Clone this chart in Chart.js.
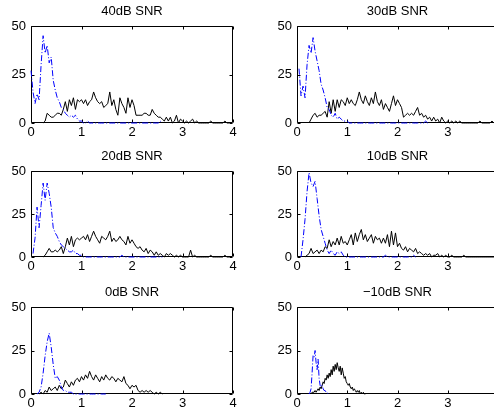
<!DOCTYPE html>
<html>
<head>
<meta charset="utf-8">
<script src="https://cdn.jsdelivr.net/npm/chart.js@4.4.0/dist/chart.umd.min.js"></script>
<style>
  html, body { margin: 0; padding: 0; background: #fff; width: 494px; height: 418px; overflow: hidden; }
  canvas { position: absolute; }
</style>
</head>
<body>
<script>
// histogram counts per SNR level, blue = dash-dot, black = solid
const snrTitles = ['40dB SNR', '30dB SNR', '20dB SNR', '10dB SNR', '0dB SNR', '\u221210dB SNR'];
const xTickValues = [0, 1, 2, 3, 4];
const yTickValues = [0, 25, 50];

// bin width and first bin centre of each series
const binWidth   = [0.04, 0.04, 0.04, 0.04, 0.04, 0.02];
const blueStart  = [0.00, 0.04, 0.04, 0.08, 0.12, 0.24];
const blackStart = [0.24, 0.24, 0.24, 0.16, 0.16, 0.28];

const blue40 = [27, 16, 10, 15, 12, 30, 45, 36, 40, 31, 34, 22, 17, 13, 11, 8, 7, 5, 4, 3,
  4, 3, 4, 2, 1, 1, 0, 0, 1, 0, 0, 0, 0, 0, 0, 0, 0, 0, 0, 0,
  0, 0, 0, 0, 0, 0, 0, 0, 0, 0, 0, 0, 0, 0, 0, 0, 0, 0, 0, 0, 0, 0, 0, 0, 1, 0];
const black40 = [0, 1, 5, 4, 3, 3, 4, 5, 5, 4,
  7, 11, 6, 12, 9, 13, 7, 12, 11, 12,
  10, 12, 9, 11, 12, 16, 13, 11, 10, 11,
  8, 9, 10, 16, 9, 12, 7, 4, 13, 10,
  8, 5, 13, 8, 12, 9, 4, 4, 4, 4,
  5, 5, 4, 4, 7, 5, 4, 3, 3, 2,
  1, 3, 1, 3, 0, 1, 4, 0, 2, 1,
  0, 1, 0, 1, 2, 0, 1, 0, 0, 0,
  0, 0, 0, 1, 0, 0, 0, 0, 0, 0,
  1, 0, 0];

const blue30 = [28, 14, 19, 13, 30, 40, 36, 44, 37, 32, 27, 20, 17, 13, 8, 7, 4, 3, 5, 2,
  3, 2, 1, 1, 1, 0, 0, 0, 0, 0, 0, 0, 0, 0, 0, 0, 0, 0, 0, 0,
  0, 0, 0, 0, 0, 0, 0, 0, 0, 0, 0, 0, 0, 0, 0, 0, 0, 0, 0, 0, 0, 0, 0, 1, 0];
const black30 = [0, 2, 4, 5, 3, 4, 4, 5, 6, 3,
  11, 5, 12, 6, 12, 8, 12, 11, 9, 13,
  10, 12, 10, 9, 12, 16, 12, 10, 14, 11,
  9, 13, 10, 16, 11, 9, 12, 7, 10, 8,
  6, 10, 14, 9, 12, 10, 8, 3, 4, 5,
  4, 5, 4, 6, 8, 4, 5, 3, 4, 2,
  3, 1, 3, 1, 2, 0, 3, 1, 0, 1,
  0, 1, 0, 1, 0, 1, 0, 0, 0, 0,
  0, 0, 0, 0, 0, 1, 0, 0, 0, 0,
  0, 1, 0];

const blue20 = [2, 11, 29, 17, 30, 43, 33, 43, 37, 29, 17, 14, 12, 9, 7, 6, 5, 4, 3, 3,
  4, 2, 2, 1, 1, 0, 0, 0, 0, 0, 0, 0, 0, 0, 0, 0, 0, 0, 0, 0,
  0, 0, 0, 0, 1, 0, 0, 0, 0, 0, 0, 0, 0, 0, 0, 0, 0, 0, 0, 0, 0, 0, 0, 0, 0];
const black20 = [0, 1, 3, 5, 3, 3, 4, 3, 4, 6,
  2, 6, 11, 7, 12, 6, 10, 11, 10, 11,
  12, 10, 13, 9, 12, 15, 12, 10, 8, 12,
  11, 10, 12, 15, 9, 11, 9, 10, 12, 10,
  9, 7, 12, 8, 10, 8, 6, 5, 6, 4,
  3, 5, 2, 4, 3, 1, 3, 1, 2, 1,
  0, 2, 1, 2, 1, 0, 1, 0, 1, 0,
  0, 0, 0, 4, 0, 1, 0, 0, 0, 0,
  0, 0, 0, 1, 0, 0, 0, 0, 0, 0,
  1, 0, 0];

const blue10 = [0, 10, 22, 38, 49, 43, 41, 44, 34, 24, 16, 12, 8, 4, 2, 4, 2, 1, 3, 2,
  3, 1, 0, 0, 0, 0, 0, 0, 0, 0, 0, 0, 0, 0, 0, 0, 0, 0, 0, 0,
  0, 0, 1, 0, 0, 0, 0, 0, 0, 0, 0, 0, 0, 0, 0, 0, 1, 0];
const black10 = [0, 1, 2, 5, 2, 3, 4, 2, 4, 3,
  6, 5, 10, 6, 9, 7, 11, 7, 12, 8,
  9, 7, 10, 13, 7, 14, 9, 13, 16, 10,
  13, 9, 11, 13, 8, 12, 10, 11, 8, 11,
  8, 13, 6, 15, 7, 14, 6, 8, 5, 4,
  6, 3, 5, 4, 3, 5, 2, 3, 2, 1,
  2, 1, 2, 0, 1, 1, 2, 0, 1, 0,
  1, 0, 0, 1, 0, 0, 0, 0, 0, 1,
  0, 0, 0, 0, 0, 0, 0, 0, 0, 0,
  0, 0, 0, 0, 0];

const blue0 = [0, 1, 4, 12, 22, 30, 35, 27, 17, 9, 10, 8, 4, 2, 2, 1, 1, 1, 0, 0,
  0, 0, 0, 0, 0, 0, 0, 0, 0, 0, 0, 0, 0, 0, 0];
const black0 = [0, 1, 0, 2, 1, 4, 2, 3, 4, 2,
  5, 3, 4, 8, 6, 4, 7, 5, 8, 9,
  7, 10, 8, 11, 9, 13, 10, 8, 11, 9,
  7, 10, 8, 11, 9, 8, 10, 9, 7, 9,
  8, 7, 10, 6, 5, 3, 5, 4, 5, 2,
  1, 2, 1, 2, 1, 2, 1, 0, 1, 0,
  1, 0];

const blueM10 = [0, 1, 3, 12, 22, 21, 25, 18, 14, 20, 9, 5, 4, 5, 3, 2, 2, 1, 1, 0, 0];
const blackM10 = [0, 1, 1, 1, 2, 1, 2, 3, 2, 4,
  3, 5, 7, 6, 9, 8, 11, 9, 12, 10,
  14, 11, 16, 13, 17, 14, 18, 15, 13, 16,
  11, 15, 12, 9, 10, 7, 6, 5, 6, 4,
  3, 4, 2, 3, 2, 1, 2, 1, 2, 0,
  1, 0, 1, 0, 0];

const blueSeries = [blue40, blue30, blue20, blue10, blue0, blueM10];
const blackSeries = [black40, black30, black20, black10, black0, blackM10];

// plot rectangles on the page (left/right, top/bottom)
const colX = [[31, 233], [297, 498]];
const rowY = [[26, 123], [171, 257], [307, 394]];
const AXIS_W = 31, TITLE_H = 26, XLABEL_H = 20, PAD_R = 10;

const FONT = { family: '"Liberation Sans", Arial, sans-serif', size: 13, weight: 'normal', lineHeight: 14 / 13 };

function toPoints(values, start, step) {
  return values.map((v, i) => ({ x: Math.round((start + i * step) * 100) / 100, y: v }));
}

// MATLAB-style box with inward tick marks on all four sides
const boxTicks = {
  id: 'boxTicks',
  beforeDatasetsDraw(chart) {
    const { ctx, chartArea: a, scales: { x, y } } = chart;
    const L = Math.round(a.left) + 0.5, R = Math.round(a.right) - 0.5;
    const T = Math.round(a.top) + 0.5, B = Math.round(a.bottom) - 0.5;
    ctx.save();
    ctx.strokeStyle = '#000';
    ctx.lineWidth = 1;
    ctx.beginPath();
    ctx.rect(L, T, R - L, B - T);
    x.ticks.forEach(t => {
      const px = Math.round(x.getPixelForValue(t.value)) + 0.5;
      ctx.moveTo(px, B); ctx.lineTo(px, B - 3);
      ctx.moveTo(px, T); ctx.lineTo(px, T + 3);
    });
    y.ticks.forEach(t => {
      const py = Math.round(y.getPixelForValue(t.value)) + 0.5;
      ctx.moveTo(L, py); ctx.lineTo(L + 3, py);
      ctx.moveTo(R, py); ctx.lineTo(R - 3, py);
    });
    ctx.stroke();
    ctx.restore();
  }
};

snrTitles.forEach((title, i) => {
  const [left, right] = colX[i % 2];
  const [top, bottom] = rowY[Math.floor(i / 2)];

  const canvas = document.createElement('canvas');
  canvas.width = right - left + AXIS_W + PAD_R;
  canvas.height = bottom - top + TITLE_H + XLABEL_H;
  canvas.style.left = (left - AXIS_W) + 'px';
  canvas.style.top = (top - TITLE_H) + 'px';
  document.body.appendChild(canvas);

  new Chart(canvas, {
    type: 'line',
    data: {
      datasets: [{
        data: toPoints(blueSeries[i], blueStart[i], binWidth[i]),
        borderColor: '#0000ff',
        borderWidth: 1,
        borderDash: [6, 2, 1, 2],
        pointRadius: 0,
        fill: false,
        clip: false
      }, {
        data: toPoints(blackSeries[i], blackStart[i], binWidth[i]),
        borderColor: '#000000',
        borderWidth: 1,
        pointRadius: 0,
        fill: false,
        clip: false
      }]
    },
    options: {
      responsive: false,
      animation: false,
      events: [],
      layout: { padding: { left: 0, right: PAD_R, top: 0, bottom: 0 } },
      plugins: {
        legend: { display: false },
        tooltip: { enabled: false },
        title: {
          display: true,
          text: title,
          fullSize: false,
          color: '#000',
          font: FONT,
          padding: { top: 4, bottom: 8 }
        }
      },
      scales: {
        x: {
          type: 'linear',
          min: 0,
          max: 4,
          afterBuildTicks: s => { s.ticks = xTickValues.map(v => ({ value: v })); },
          afterFit: s => { s.height = XLABEL_H; },
          grid: { display: false, drawTicks: false },
          border: { display: false },
          ticks: { color: '#000', font: FONT, padding: 2, maxRotation: 0, autoSkip: false }
        },
        y: {
          min: 0,
          max: 50,
          afterBuildTicks: s => { s.ticks = yTickValues.map(v => ({ value: v })); },
          afterFit: s => { s.width = AXIS_W; },
          grid: { display: false, drawTicks: false },
          border: { display: false },
          ticks: { color: '#000', font: FONT, padding: 5 }
        }
      }
    },
    plugins: [boxTicks]
  });
});
</script>
</body>
</html>
